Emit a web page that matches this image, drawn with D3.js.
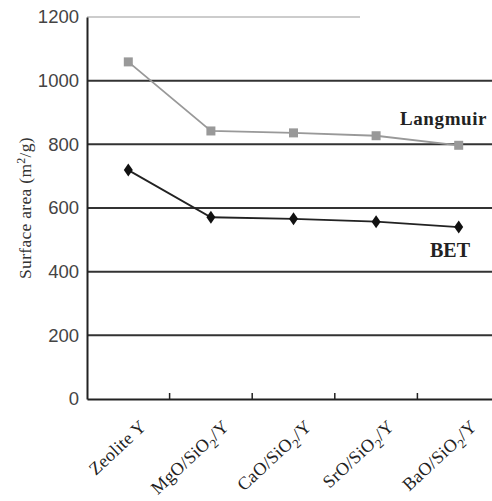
<!DOCTYPE html>
<html>
<head>
<meta charset="utf-8">
<script src="https://cdn.jsdelivr.net/npm/d3@7"></script>
<style>
  body { margin: 0; background: #fff; }
  svg { display: block; overflow: hidden; }
</style>
</head>
<body>
<svg id="chart" width="492" height="501"></svg>
<script>
const categories = ["Zeolite Y", "MgO/SiO2/Y", "CaO/SiO2/Y", "SrO/SiO2/Y", "BaO/SiO2/Y"];
const langmuir = [1059, 842, 836, 827, 797];
const bet = [719, 571, 566, 557, 540];
const yTicks = [0, 200, 400, 600, 800, 1000, 1200];

const svg = d3.select("#chart");
const width = 492;
const height = 501;
const margin = { top: 17, right: -8, bottom: 102, left: 87 };

const x = d3.scaleBand()
  .domain(categories)
  .range([margin.left, width - margin.right]);

const y = d3.scaleLinear()
  .domain([0, 1200])
  .range([height - margin.bottom, margin.top]);

// gridlines
svg.append("g")
  .selectAll("line")
  .data(yTicks.filter(d => d > 0))
  .enter()
  .append("line")
  .attr("x1", margin.left)
  .attr("x2", d => d === 1200 ? 360 : width)
  .attr("y1", d => y(d))
  .attr("y2", d => y(d))
  .attr("stroke", d => d === 1200 ? "#bbb" : "#333")
  .attr("stroke-width", d => d === 1200 ? 1.5 : 2);

// y axis
const yAxis = svg.append("g")
  .attr("transform", `translate(${margin.left},0)`)
  .call(d3.axisLeft(y).tickValues(yTicks).tickFormat(d3.format("d")).tickSize(0).tickPadding(8));
yAxis.select(".domain").attr("stroke", "#222").attr("stroke-width", 2);
yAxis.selectAll("text")
  .attr("font-family", "Liberation Sans, Arial, sans-serif")
  .attr("font-size", "18.5px")
  .attr("fill", "#444");

// x axis
const xAxis = svg.append("g")
  .attr("transform", `translate(0,${y(0)})`)
  .call(d3.axisBottom(x).tickSize(0).tickFormat(""));
xAxis.select(".domain").attr("stroke", "#222").attr("stroke-width", 2);

// separator ticks between categories
svg.append("g")
  .selectAll("line")
  .data(categories.slice(1))
  .enter()
  .append("line")
  .attr("x1", d => x(d))
  .attr("x2", d => x(d))
  .attr("y1", y(0))
  .attr("y2", y(0) - 6)
  .attr("stroke", "#222")
  .attr("stroke-width", 1.5);

// rotated category labels
const labels = svg.append("g")
  .selectAll("text")
  .data(categories)
  .enter()
  .append("text")
  .attr("transform", d => `translate(${x(d) + x.bandwidth() / 2 + 19},${y(0) + 29}) rotate(-43)`)
  .attr("text-anchor", "end")
  .attr("font-family", "Liberation Serif, Times New Roman, serif")
  .attr("font-size", "18px")
  .attr("letter-spacing", "0.3px")
  .attr("fill", "#222");

labels.each(function(d) {
  const t = d3.select(this);
  const m = d.match(/^(.*)O2(.*)$/);
  if (m) {
    t.append("tspan").text(m[1] + "O");
    t.append("tspan").attr("dy", 5).attr("font-size", "13px").text("2");
    t.append("tspan").attr("dy", -5).text(m[2]);
  } else {
    t.text(d);
  }
});

// y title
const yTitle = svg.append("text")
  .attr("transform", `translate(31,${(y(0) + y(1200)) / 2}) rotate(-90)`)
  .attr("text-anchor", "middle")
  .attr("font-family", "Liberation Serif, Times New Roman, serif")
  .attr("font-size", "17.5px")
  .attr("letter-spacing", "0.3px")
  .attr("fill", "#333");
yTitle.append("tspan").text("Surface area (m");
yTitle.append("tspan").attr("dy", -6).attr("font-size", "12px").text("2");
yTitle.append("tspan").attr("dy", 6).text("/g)");

const cx = (d, i) => x(categories[i]) + x.bandwidth() / 2;

const line = d3.line()
  .x((d, i) => cx(d, i))
  .y(d => y(d));

// Langmuir
svg.append("path")
  .datum(langmuir)
  .attr("d", line)
  .attr("fill", "none")
  .attr("stroke", "#999")
  .attr("stroke-width", 1.8);

svg.append("g")
  .selectAll("rect")
  .data(langmuir)
  .enter()
  .append("rect")
  .attr("x", (d, i) => cx(d, i) - 4.5)
  .attr("y", d => y(d) - 4.5)
  .attr("width", 9)
  .attr("height", 9)
  .attr("fill", "#999");

// BET
svg.append("path")
  .datum(bet)
  .attr("d", line)
  .attr("fill", "none")
  .attr("stroke", "#222")
  .attr("stroke-width", 1.8);

svg.append("g")
  .selectAll("path")
  .data(bet)
  .enter()
  .append("path")
  .attr("d", (d, i) => {
    const px = cx(d, i), py = y(d);
    return `M${px},${py - 6.5}L${px + 4.5},${py}L${px},${py + 6.5}L${px - 4.5},${py}Z`;
  })
  .attr("fill", "#111");

// series labels
svg.append("text")
  .attr("x", 400)
  .attr("y", 125)
  .attr("font-family", "Liberation Serif, Times New Roman, serif")
  .attr("font-weight", "bold")
  .attr("font-size", "19px")
  .attr("letter-spacing", "0.6px")
  .attr("fill", "#222")
  .text("Langmuir");

svg.append("text")
  .attr("x", 430)
  .attr("y", 257)
  .attr("font-family", "Liberation Serif, Times New Roman, serif")
  .attr("font-weight", "bold")
  .attr("font-size", "20px")
  .attr("fill", "#222")
  .text("BET");
</script>
</body>
</html>
